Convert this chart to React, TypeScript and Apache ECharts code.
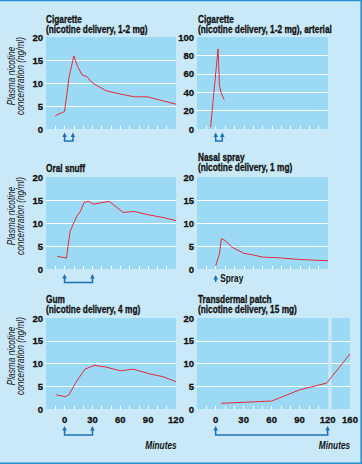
import React, { useEffect, useRef } from "react";
import * as echarts from "echarts";

// ---- data (minutes, plasma nicotine ng/ml) ----
const cigMinutes = [-10, 0, 5, 10, 14, 19, 24, 30, 45, 60, 75, 89, 120];
const cigConc = [2.9, 3.8, 11.4, 15.9, 13.6, 11.7, 11.4, 10, 8.3, 7.6, 7, 7, 5.4];

const artMinutes = [-5.5, 2.5, 4, 5.5, 9];
const artConc = [2, 87, 48, 40, 32];

const snuffMinutes = [-8, 2, 6, 13, 17, 21, 26, 31, 48, 63, 75, 90, 106, 120];
const snuffConc = [2.75, 2.4, 8.2, 11.4, 12.5, 14.5, 14.7, 14.1, 14.7, 12.3, 12.5, 11.8, 11.2, 10.5];

const nasalMinutes = [0, 4, 6, 10, 17, 30, 39, 50, 70, 91, 120];
const nasalConc = [0.7, 3.3, 6.6, 6.2, 4.8, 3.4, 3.1, 2.6, 2.4, 2.05, 1.8];

const gumMinutes = [-9, 1, 5, 12, 16, 22, 32, 45, 60, 74, 92, 106, 120];
const gumConc = [3.1, 2.7, 3.2, 5.8, 7, 8.75, 9.6, 9.2, 8.4, 8.75, 7.7, 7.1, 6];

const patchMinutes = [6, 60, 90, 119, 160];
const patchConc = [1.25, 1.75, 4.2, 5.7, 12.1];

const xTicks = [-10, 0, 10, 20, 30, 40, 50, 60, 70, 80, 90, 100, 110];
const xLabels = [0, 30, 60, 90, 120];
const patchLabels = [0, 30, 60, 90, 120, 160];

const titles = [
  "Cigarette\n(nicotine delivery, 1-2 mg)",
  "Cigarette\n(nicotine delivery, 1-2 mg), arterial",
  "Oral snuff",
  "Nasal spray\n(nicotine delivery, 1 mg)",
  "Gum\n(nicotine delivery, 4 mg)",
  "Transdermal patch\n(nicotine delivery, 15 mg)",
];

// dosing arrows (minutes)
const cigArrows = [0, 9];
const artArrows = [0, 7];
const snuffArrows = [0, 30];
const nasalArrows = [0];
const gumArrows = [0, 30];
const patchArrows = [0, 120];

// axis break for the patch panel: 120..160 min drawn compressed
const BREAK_AT = 120;
const BREAK_SCALE = 0.6;
const toDisplay = (t: number) => (t <= BREAK_AT ? t : BREAK_AT + (t - BREAK_AT) * BREAK_SCALE);

const FONT = "'Liberation Sans', Arial, Helvetica, sans-serif";
const NARROW = 0.83; // horizontal squeeze to imitate a condensed face
const PAGE_BG = "#c9e9f9";
const PLOT_BG = "#9cd9f4";
const LINE = "#e6293b";
const ARROW = "#1f6fb8";
const TEXT = "#111111";

const grids = [
  { left: 46, top: 37, width: 130, height: 92 },
  { left: 197, top: 37, width: 131, height: 92 },
  { left: 46, top: 177, width: 130, height: 92 },
  { left: 197, top: 177, width: 131, height: 92 },
  { left: 46, top: 318, width: 130, height: 91 },
  { left: 197, top: 318, width: 153, height: 91 },
];

export default function App() {
  const ref = useRef<HTMLDivElement>(null);

  useEffect(() => {
    const chart = echarts.init(ref.current!, null, { renderer: "svg" });

    const series: any[] = [];
    const datasets = [
      [cigMinutes, cigConc],
      [artMinutes, artConc],
      [snuffMinutes, snuffConc],
      [nasalMinutes, nasalConc],
      [gumMinutes, gumConc],
      [patchMinutes, patchConc],
    ];
    datasets.forEach(([xs, ys], i) => {
      const s: any = {
        type: "line",
        xAxisIndex: i,
        yAxisIndex: i,
        showSymbol: false,
        symbol: "none",
        lineStyle: { color: LINE, width: 1 },
        data: xs.map((x, k) => [i === 5 ? toDisplay(x) : x, ys[k]]),
        z: 3,
      };
      if (i === 5) {
        s.markArea = {
          silent: true,
          itemStyle: { color: PAGE_BG },
          data: [[{ xAxis: 120.7 }, { xAxis: 124.3 }]],
        };
      }
      series.push(s);
    });

    const labelStyle = {
      fontFamily: FONT,
      fontSize: 9.5,
      fontWeight: "bold",
      color: TEXT,
      textBorderColor: TEXT,
      textBorderWidth: 0.3,
    };

    const xAxis = grids.map((_, i) => ({
      type: "value",
      gridIndex: i,
      min: -20,
      max: i === 5 ? toDisplay(160) : 120,
      axisLine: { show: false },
      splitLine: { show: false },
      axisTick: {
        show: true,
        inside: true,
        length: 3,
        lineStyle: { color: "#ffffff", width: 1 },
        customValues: xTicks,
      },
      axisLabel: {
        show: i >= 4,
        customValues: (i === 5 ? patchLabels : xLabels).map(toDisplay),
        formatter: (v: number) => (v > BREAK_AT ? String(patchLabels[patchLabels.length - 1]) : String(v)),
        ...labelStyle,
        margin: 5,
      },
    }));

    const yAxis = grids.map((_, i) => ({
      type: "value",
      gridIndex: i,
      min: 0,
      max: i === 1 ? 100 : 20,
      interval: i === 1 ? 20 : 5,
      axisLine: { show: false },
      axisTick: { show: false },
      splitLine: {
        show: true,
        showMinLine: false,
        showMaxLine: false,
        lineStyle: { color: "#ffffff", width: 1.2 },
      },
      axisLabel: {
        ...labelStyle,
        margin: 3,
      },
    }));

    chart.setOption({
      animation: false,
      backgroundColor: PAGE_BG,
      grid: grids.map((g) => ({
        ...g,
        show: true,
        backgroundColor: PLOT_BG,
        borderWidth: 0,
        containLabel: false,
      })),
      xAxis,
      yAxis,
      series,
    });

    // annotations
    const graphic: any[] = [];
    const titlePos = [
      [46, 14.5],
      [198, 14.5],
      [46, 164],
      [198, 153],
      [46, 294.5],
      [198, 294.5],
    ];
    titles.forEach((t, i) => {
      graphic.push({
        type: "text",
        x: titlePos[i][0],
        y: titlePos[i][1],
        scaleX: NARROW,
        silent: true,
        style: {
          text: t,
          fontFamily: FONT,
          fontSize: 10,
          fontWeight: "bold",
          lineHeight: 10,
          fill: TEXT,
          stroke: TEXT,
          lineWidth: 0.3,
          align: "left",
          verticalAlign: "top",
        },
      });
    });

    [76, 216, 356].forEach((cy) => {
      graphic.push({
        type: "text",
        x: 16,
        y: cy,
        rotation: Math.PI / 2,
        scaleX: NARROW,
        silent: true,
        style: {
          text: "Plasma nicotine\nconcentration (ng/ml)",
          fontFamily: FONT,
          fontSize: 10,
          fontStyle: "italic",
          lineHeight: 8.5,
          fill: TEXT,
          align: "center",
          verticalAlign: "middle",
        },
      });
    });

    [
      [161, 445.5],
      [334.5, 445.5],
    ].forEach(([x, y]) => {
      graphic.push({
        type: "text",
        x,
        y,
        scaleX: NARROW,
        silent: true,
        style: {
          text: "Minutes",
          fontFamily: FONT,
          fontSize: 10,
          fontStyle: "italic",
          fontWeight: "bold",
          fill: TEXT,
          align: "center",
          verticalAlign: "middle",
        },
      });
    });

    const arrowSets = [cigArrows, artArrows, snuffArrows, nasalArrows, gumArrows, patchArrows];
    const arrowY = [
      [132.5, 141],
      [132.5, 141],
      [274, 282.5],
      [275, 282],
      [426, 435],
      [426, 435],
    ];
    arrowSets.forEach((arr, i) => {
      const [head, base] = arrowY[i];
      const xs = arr.map((m) => chart.convertToPixel({ gridIndex: i } as any, [toDisplay(m), 0])[0]);
      xs.forEach((px) => {
        graphic.push({
          type: "line",
          silent: true,
          shape: { x1: px, y1: base, x2: px, y2: head + 3 },
          style: { stroke: ARROW, lineWidth: 1.5 },
        });
        graphic.push({
          type: "polygon",
          silent: true,
          shape: {
            points: [
              [px - 2.3, head + 4.5],
              [px + 2.3, head + 4.5],
              [px, head],
            ],
          },
          style: { fill: ARROW },
        });
      });
      if (xs.length > 1) {
        graphic.push({
          type: "line",
          silent: true,
          shape: { x1: xs[0] - 0.75, y1: base, x2: xs[xs.length - 1] + 0.75, y2: base },
          style: { stroke: ARROW, lineWidth: 1.5 },
        });
      } else {
        graphic.push({
          type: "text",
          x: xs[0] + 4.5,
          y: (head + base) / 2 + 0.5,
          scaleX: NARROW,
          silent: true,
          style: {
            text: "Spray",
            fontFamily: FONT,
            fontSize: 10,
            fontWeight: "bold",
            fill: TEXT,
            align: "left",
            verticalAlign: "middle",
          },
        });
      }
    });

    // figure frame (top, right, bottom)
    graphic.push({
      type: "polyline",
      silent: true,
      shape: { points: [[0, 0.5], [361.2, 0.5], [361.2, 463.2], [0, 463.2]] },
      style: { stroke: "#2a8fd0", lineWidth: 1.6, fill: "none" },
    });

    chart.setOption({ graphic });

    return () => chart.dispose();
  }, []);

  return (
    <div
      ref={ref}
      style={{ position: "fixed", left: 0, top: 0, width: 362, height: 464 }}
    />
  );
}
